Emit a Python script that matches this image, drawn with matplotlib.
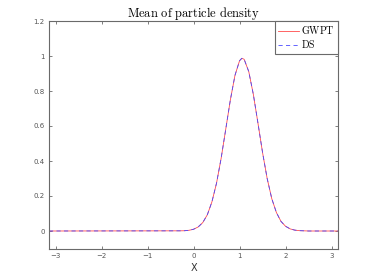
import numpy as np
import matplotlib
matplotlib.use("Agg")
import matplotlib.pyplot as plt

plt.rcParams["mathtext.fontset"] = "cm"

x = [-np.pi, -0.3, -0.2, -0.1, 0.0, 0.1, 0.2, 0.3, 0.4, 0.5, 0.6, 0.7, 0.8, 0.9,
     1.0, 1.05, 1.1, 1.2, 1.3, 1.4, 1.5, 1.6, 1.7, 1.8, 1.9, 2.0, 2.1, 2.2,
     2.3, 2.4, 2.5, np.pi]
gwpt = [0.0, 0.001, 0.0015, 0.004, 0.010, 0.023, 0.048, 0.093, 0.167, 0.274,
        0.416, 0.582, 0.749, 0.889, 0.973, 0.987, 0.981, 0.911, 0.780, 0.616,
        0.448, 0.300, 0.185, 0.106, 0.055, 0.027, 0.012, 0.005, 0.002, 0.001,
        0.0, 0.0]
ds = list(gwpt)

xticks = [-3, -2, -1, 0, 1, 2, 3]
yticks = [0, 0.2, 0.4, 0.6, 0.8, 1, 1.2]
ytick_labels = ["0", "0.2", "0.4", "0.6", "0.8", "1", "1.2"]

fig = plt.figure(figsize=(3.74, 2.8), dpi=100)
ax = fig.add_axes([0.131, 0.1125, 0.773, 0.8125])

ax.plot(x, gwpt, color="#ff4a4a", lw=0.6, label=r"$\mathrm{GWPT}$")
ax.plot(x, ds, color="#4a4aff", lw=0.6, ls=(0, (5, 4)), label=r"$\mathrm{DS}$")

ax.set_xlim(-np.pi, np.pi)
ax.set_ylim(-0.1, 1.2)
ax.set_xticks(xticks)
ax.set_yticks(yticks)
ax.set_yticklabels(ytick_labels)

gray = "#6a6a6a"
for s in ax.spines.values():
    s.set_color(gray)
    s.set_linewidth(0.8)
ax.tick_params(direction="in", length=2.5, width=0.6, colors=gray,
               labelsize=5, labelcolor="#555555", top=True, right=True, pad=3)

ax.set_title(r"$\mathrm{Mean\ of\ particle\ density}$", fontsize=9, pad=3)
ax.set_xlabel("X", fontsize=7, color="#333333", labelpad=3)

leg = ax.legend(loc="upper right", borderaxespad=0, fontsize=7.2, fancybox=False,
                handlelength=2.1, handletextpad=0.25, borderpad=0.3,
                labelspacing=0.25, framealpha=1)
leg.get_frame().set_edgecolor(gray)
leg.get_frame().set_linewidth(0.8)

fig.savefig("out.png", dpi=100)
